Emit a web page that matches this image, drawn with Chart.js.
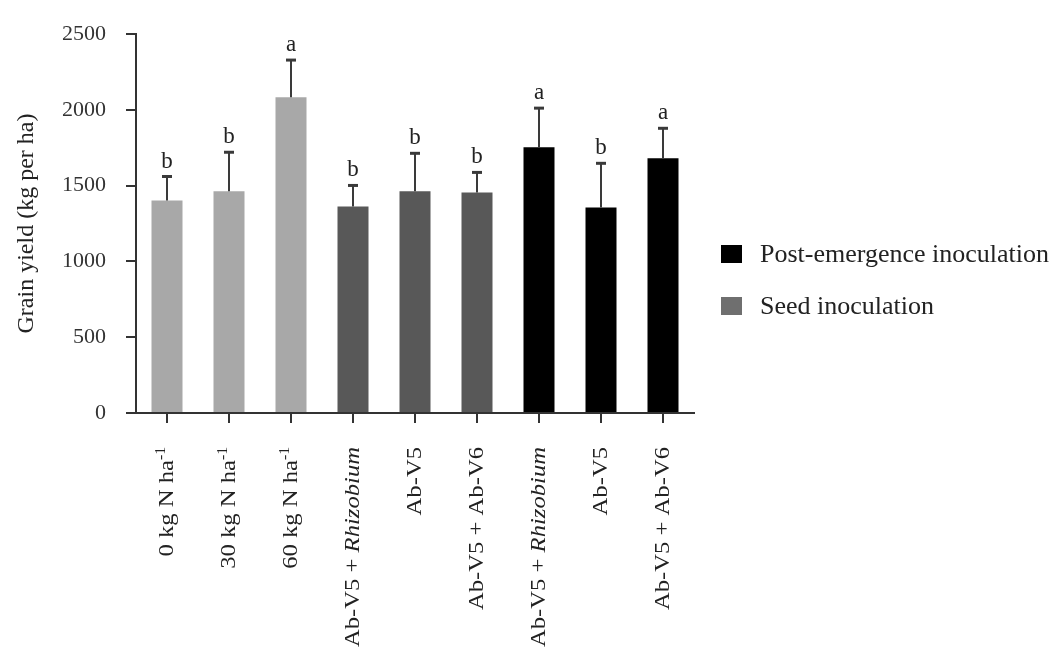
<!DOCTYPE html>
<html>
<head>
<meta charset="utf-8">
<script src="https://cdn.jsdelivr.net/npm/chart.js@4/dist/chart.umd.min.js"></script>
<style>
  html, body { margin: 0; padding: 0; background: #fff; }
  #wrap { width: 1056px; height: 649px; }
</style>
</head>
<body>
<div id="wrap"><canvas id="grafico"></canvas></div>
<script>
// dados
var categorias = ['0 kg N ha-1', '30 kg N ha-1', '60 kg N ha-1', 'Ab-V5 + Rhizobium', 'Ab-V5', 'Ab-V5 + Ab-V6', 'Ab-V5 + Rhizobium', 'Ab-V5', 'Ab-V5 + Ab-V6'];
var controle = [1402, 1462, 2083, null, null, null, null, null, null];
var sementes = [null, null, null, 1362, 1462, 1455, null, null, null];
var posEmergencia = [null, null, null, null, null, null, 1753, 1356, 1680];
var desvio = [158, 258, 245, 139, 251, 132, 258, 291, 198];
var letras = ['b', 'b', 'a', 'b', 'b', 'b', 'a', 'b', 'a'];
var ticksY = [0, 500, 1000, 1500, 2000, 2500];

var serif = '"Liberation Serif", "DejaVu Serif", serif';

// barras de erro + letras
var errosPlugin = {
  id: 'erros',
  afterDatasetsDraw: function(chart) {
    var ctx = chart.ctx;
    var y = chart.scales.y;
    ctx.save();
    for (var i = 0; i < categorias.length; i++) {
      for (var d = 0; d < chart.data.datasets.length; d++) {
        var v = chart.data.datasets[d].data[i];
        if (v == null) continue;
        var bar = chart.getDatasetMeta(d).data[i];
        var topo = y.getPixelForValue(v + desvio[i]);
        ctx.strokeStyle = '#3a3a3a';
        ctx.lineWidth = 2;
        ctx.beginPath();
        ctx.moveTo(bar.x, bar.y);
        ctx.lineTo(bar.x, topo);
        ctx.stroke();
        ctx.lineWidth = 3;
        ctx.beginPath();
        ctx.moveTo(bar.x - 5, topo);
        ctx.lineTo(bar.x + 5, topo);
        ctx.stroke();
        ctx.fillStyle = '#222';
        ctx.font = '23px ' + serif;
        ctx.textAlign = 'center';
        ctx.textBaseline = 'alphabetic';
        ctx.fillText(letras[i], bar.x, topo - 9);
      }
    }
    ctx.restore();
  }
};

// rotulos do eixo x (sobrescrito e italico)
var rotulosPlugin = {
  id: 'rotulos',
  afterDraw: function(chart) {
    var ctx = chart.ctx;
    var x = chart.scales.x;
    var base = chart.chartArea.bottom + 34;
    ctx.save();
    ctx.fillStyle = '#222';
    ctx.textBaseline = 'middle';
    ctx.textAlign = 'left';
    for (var i = 0; i < categorias.length; i++) {
      var txt = categorias[i];
      var partes = [];
      if (txt.slice(-2) === '-1') {
        partes.push({ t: txt.slice(0, -2), f: '22px ' + serif, dy: 0 });
        partes.push({ t: '-1', f: '14px ' + serif, dy: -6 });
      } else if (txt.indexOf('Rhizobium') >= 0) {
        partes.push({ t: txt.replace('Rhizobium', ''), f: '22px ' + serif, dy: 0 });
        partes.push({ t: 'Rhizobium', f: 'italic 22px ' + serif, dy: 0 });
      } else {
        partes.push({ t: txt, f: '22px ' + serif, dy: 0 });
      }
      var total = 0;
      partes.forEach(function(p) { ctx.font = p.f; p.w = ctx.measureText(p.t).width; total += p.w; });
      ctx.save();
      ctx.translate(x.getPixelForTick(i), base);
      ctx.rotate(-Math.PI / 2);
      ctx.scale(1.12, 1);
      var pos = -total;
      partes.forEach(function(p) {
        ctx.font = p.f;
        ctx.fillText(p.t, pos, p.dy);
        pos += p.w;
      });
      ctx.restore();
    }
    ctx.restore();
  }
};

// legenda a direita
var legendaPlugin = {
  id: 'legenda',
  afterDraw: function(chart) {
    var ctx = chart.ctx;
    var itens = [chart.data.datasets[2], chart.data.datasets[1]];
    ctx.save();
    ctx.font = '26px ' + serif;
    ctx.textBaseline = 'alphabetic';
    ctx.textAlign = 'left';
    itens.forEach(function(ds, k) {
      var yy = 245 + k * 52;
      ctx.fillStyle = ds.legendColor;
      ctx.fillRect(721, yy, 21, 18);
      ctx.fillStyle = '#222';
      ctx.fillText(ds.label, 760, yy + 17);
    });
    ctx.restore();
  }
};

var ctx = document.getElementById('grafico');
var myChart = new Chart(ctx, {
  type: 'bar',
  data: {
    labels: categorias,
    datasets: [{
      label: 'Control',
      data: controle,
      backgroundColor: '#a8a8a8',
      legendColor: '#a8a8a8'
    }, {
      label: 'Seed inoculation',
      data: sementes,
      backgroundColor: '#585858',
      legendColor: '#6f6f6f'
    }, {
      label: 'Post-emergence inoculation',
      data: posEmergencia,
      backgroundColor: '#000000',
      legendColor: '#000000'
    }]
  },
  options: {
    responsive: true,
    maintainAspectRatio: false,
    animation: false,
    datasets: { bar: { barPercentage: 0.5, categoryPercentage: 1.0 } },
    layout: { padding: { top: 34, right: 362, bottom: 0, left: 0 } },
    plugins: {
      legend: { display: false },
      tooltip: { enabled: false }
    },
    scales: {
      x: {
        stacked: true,
        offset: true,
        border: { color: '#333', width: 2 },
        grid: { drawOnChartArea: false, offset: false, tickLength: 10, color: '#333', lineWidth: 2 },
        ticks: { display: false },
        afterFit: function(s) { s.height = 236; }
      },
      y: {
        stacked: true,
        min: 0,
        max: 2500,
        afterBuildTicks: function(s) { s.ticks = ticksY.map(function(v) { return { value: v }; }); },
        border: { color: '#333', width: 2 },
        grid: { drawOnChartArea: false, tickLength: 10, color: '#333', lineWidth: 2 },
        ticks: {
          color: '#333',
          font: { family: serif, size: 22 },
          padding: 20,
          callback: function(v) { return String(v); }
        },
        title: { display: true, text: 'Grain yield (kg per ha)', color: '#222', font: { family: serif, size: 24 }, padding: { top: 12, bottom: 0 } },
        afterFit: function(s) { s.width = 136; }
      }
    }
  },
  plugins: [errosPlugin, rotulosPlugin, legendaPlugin]
});
</script>
</body>
</html>
